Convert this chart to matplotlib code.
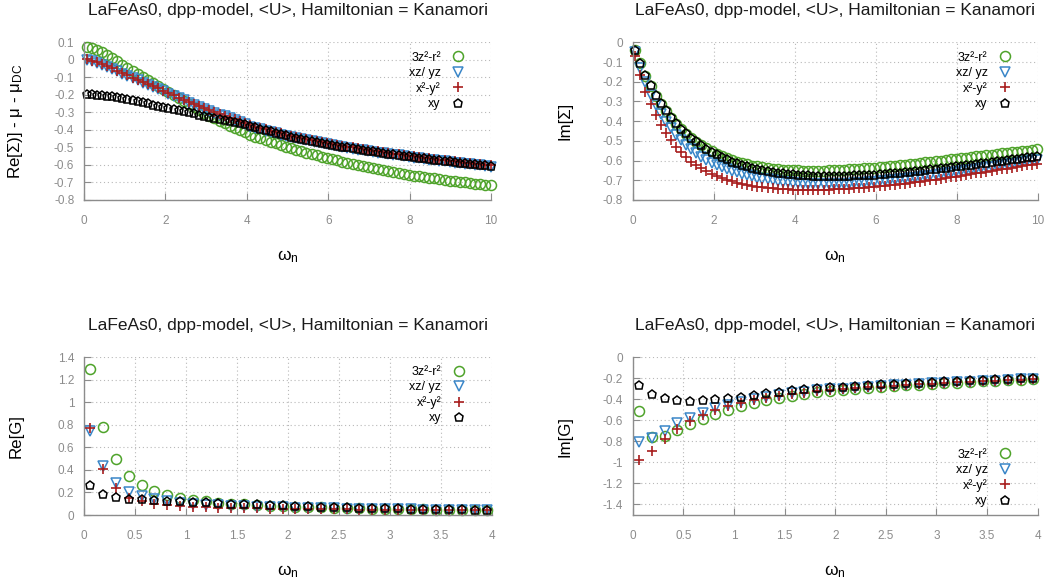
import numpy as np
import matplotlib
matplotlib.use("Agg")
import matplotlib.pyplot as plt
from matplotlib.ticker import FuncFormatter, MultipleLocator

plt.rcParams['font.family'] = ['Liberation Sans', 'DejaVu Sans']
plt.rcParams['mathtext.fontset'] = 'custom'
plt.rcParams['mathtext.rm'] = 'Liberation Sans'
plt.rcParams['mathtext.it'] = 'Liberation Sans:italic'
plt.rcParams['axes.unicode_minus'] = False

# ---------------- data ----------------
beta = 50.0
n_sigma = np.arange(80)
n_green = np.arange(32)
w_sigma = (2 * n_sigma + 1) * np.pi / beta   # Matsubara frequencies
w_green = (2 * n_green + 1) * np.pi / beta

orbitals = ["3z²-r²", "xz/ yz", "x²-y²", "xy"]

re_sigma_3z2 = [
    0.075, 0.068, 0.057, 0.043, 0.027, 0.010, -0.008, -0.027,
    -0.046, -0.064, -0.082, -0.100, -0.117, -0.134, -0.151, -0.168,
    -0.186, -0.203, -0.220, -0.237, -0.254, -0.271, -0.287, -0.303,
    -0.318, -0.333, -0.348, -0.362, -0.376, -0.389, -0.402, -0.414,
    -0.428, -0.438, -0.448, -0.458, -0.468, -0.477, -0.486, -0.495,
    -0.505, -0.513, -0.521, -0.529, -0.537, -0.545, -0.553, -0.561,
    -0.568, -0.574, -0.581, -0.587, -0.594, -0.600, -0.607, -0.613,
    -0.620, -0.625, -0.630, -0.636, -0.641, -0.646, -0.651, -0.656,
    -0.661, -0.665, -0.669, -0.673, -0.677, -0.681, -0.685, -0.689,
    -0.693, -0.697, -0.700, -0.703, -0.707, -0.710, -0.713, -0.717]
re_sigma_xzyz = [
    -0.002, -0.008, -0.017, -0.028, -0.040, -0.053, -0.066, -0.079,
    -0.092, -0.105, -0.117, -0.130, -0.142, -0.155, -0.167, -0.180,
    -0.194, -0.207, -0.220, -0.232, -0.244, -0.256, -0.268, -0.280,
    -0.291, -0.302, -0.313, -0.323, -0.334, -0.344, -0.354, -0.364,
    -0.381, -0.389, -0.396, -0.404, -0.412, -0.420, -0.427, -0.434,
    -0.441, -0.447, -0.453, -0.459, -0.465, -0.471, -0.477, -0.483,
    -0.488, -0.493, -0.498, -0.502, -0.507, -0.512, -0.516, -0.521,
    -0.526, -0.530, -0.534, -0.538, -0.542, -0.546, -0.550, -0.554,
    -0.558, -0.562, -0.565, -0.569, -0.572, -0.576, -0.579, -0.583,
    -0.587, -0.590, -0.594, -0.597, -0.600, -0.603, -0.606, -0.610]
re_sigma_x2y2 = [
    0.002, -0.004, -0.013, -0.024, -0.036, -0.049, -0.062, -0.075,
    -0.088, -0.101, -0.113, -0.126, -0.138, -0.151, -0.163, -0.176,
    -0.190, -0.203, -0.216, -0.228, -0.240, -0.252, -0.264, -0.276,
    -0.287, -0.298, -0.309, -0.319, -0.330, -0.340, -0.350, -0.360,
    -0.374, -0.382, -0.389, -0.397, -0.405, -0.413, -0.420, -0.427,
    -0.434, -0.440, -0.446, -0.452, -0.458, -0.464, -0.470, -0.476,
    -0.481, -0.486, -0.491, -0.495, -0.500, -0.505, -0.509, -0.514,
    -0.519, -0.523, -0.527, -0.531, -0.535, -0.539, -0.543, -0.547,
    -0.551, -0.555, -0.558, -0.562, -0.565, -0.569, -0.572, -0.576,
    -0.580, -0.583, -0.587, -0.590, -0.593, -0.596, -0.599, -0.603]
re_sigma_xy = [
    -0.195, -0.196, -0.198, -0.201, -0.205, -0.209, -0.214, -0.219,
    -0.225, -0.231, -0.237, -0.243, -0.249, -0.255, -0.261, -0.267,
    -0.273, -0.280, -0.287, -0.293, -0.300, -0.306, -0.313, -0.319,
    -0.325, -0.331, -0.337, -0.343, -0.349, -0.355, -0.360, -0.366,
    -0.378, -0.386, -0.393, -0.401, -0.409, -0.417, -0.424, -0.431,
    -0.438, -0.444, -0.450, -0.456, -0.462, -0.468, -0.474, -0.480,
    -0.485, -0.490, -0.495, -0.499, -0.504, -0.509, -0.513, -0.518,
    -0.523, -0.527, -0.531, -0.535, -0.539, -0.543, -0.547, -0.551,
    -0.555, -0.559, -0.562, -0.566, -0.569, -0.573, -0.576, -0.580,
    -0.584, -0.587, -0.591, -0.594, -0.597, -0.600, -0.603, -0.607]

im_sigma_3z2 = [
    -0.040, -0.106, -0.170, -0.224, -0.272, -0.314, -0.349, -0.382,
    -0.413, -0.440, -0.464, -0.485, -0.504, -0.522, -0.538, -0.553,
    -0.566, -0.578, -0.589, -0.598, -0.606, -0.613, -0.619, -0.625,
    -0.630, -0.634, -0.638, -0.641, -0.644, -0.646, -0.648, -0.649,
    -0.650, -0.651, -0.651, -0.651, -0.651, -0.651, -0.650, -0.649,
    -0.648, -0.647, -0.645, -0.644, -0.642, -0.640, -0.638, -0.636,
    -0.634, -0.632, -0.629, -0.627, -0.624, -0.621, -0.618, -0.615,
    -0.612, -0.609, -0.606, -0.603, -0.600, -0.597, -0.594, -0.591,
    -0.588, -0.585, -0.582, -0.579, -0.576, -0.573, -0.570, -0.567,
    -0.564, -0.561, -0.558, -0.555, -0.552, -0.549, -0.546, -0.542]
im_sigma_xzyz = [
    -0.050, -0.128, -0.203, -0.265, -0.318, -0.363, -0.402, -0.437,
    -0.468, -0.496, -0.521, -0.543, -0.563, -0.580, -0.596, -0.610,
    -0.622, -0.633, -0.643, -0.652, -0.660, -0.667, -0.674, -0.680,
    -0.686, -0.691, -0.696, -0.700, -0.704, -0.707, -0.710, -0.713,
    -0.715, -0.717, -0.718, -0.719, -0.720, -0.720, -0.720, -0.720,
    -0.719, -0.718, -0.717, -0.716, -0.714, -0.712, -0.710, -0.708,
    -0.706, -0.703, -0.701, -0.698, -0.695, -0.692, -0.689, -0.686,
    -0.683, -0.679, -0.676, -0.672, -0.669, -0.665, -0.661, -0.658,
    -0.654, -0.650, -0.646, -0.643, -0.639, -0.635, -0.631, -0.627,
    -0.623, -0.619, -0.615, -0.611, -0.607, -0.603, -0.599, -0.595]
im_sigma_x2y2 = [
    -0.070, -0.166, -0.250, -0.313, -0.370, -0.418, -0.460, -0.497,
    -0.530, -0.558, -0.583, -0.605, -0.624, -0.640, -0.655, -0.668,
    -0.679, -0.689, -0.698, -0.706, -0.713, -0.719, -0.724, -0.729,
    -0.733, -0.736, -0.739, -0.741, -0.743, -0.745, -0.746, -0.747,
    -0.748, -0.748, -0.748, -0.748, -0.748, -0.747, -0.747, -0.746,
    -0.745, -0.744, -0.742, -0.741, -0.739, -0.737, -0.735, -0.733,
    -0.731, -0.728, -0.726, -0.723, -0.720, -0.717, -0.714, -0.711,
    -0.707, -0.704, -0.700, -0.697, -0.693, -0.689, -0.685, -0.681,
    -0.677, -0.673, -0.669, -0.665, -0.661, -0.657, -0.653, -0.649,
    -0.645, -0.641, -0.637, -0.633, -0.629, -0.624, -0.620, -0.616]
im_sigma_xy = [
    -0.037, -0.103, -0.165, -0.219, -0.267, -0.310, -0.345, -0.378,
    -0.410, -0.438, -0.462, -0.483, -0.502, -0.522, -0.539, -0.555,
    -0.569, -0.582, -0.594, -0.605, -0.614, -0.622, -0.630, -0.637,
    -0.643, -0.649, -0.654, -0.658, -0.662, -0.665, -0.668, -0.670,
    -0.672, -0.674, -0.675, -0.676, -0.677, -0.677, -0.677, -0.677,
    -0.677, -0.676, -0.676, -0.675, -0.674, -0.673, -0.672, -0.671,
    -0.669, -0.667, -0.665, -0.663, -0.661, -0.659, -0.656, -0.654,
    -0.651, -0.648, -0.645, -0.642, -0.639, -0.636, -0.633, -0.630,
    -0.627, -0.624, -0.621, -0.617, -0.614, -0.611, -0.608, -0.604,
    -0.601, -0.598, -0.594, -0.591, -0.588, -0.584, -0.581, -0.577]

re_g_3z2 = [1.293, 0.781, 0.497, 0.349, 0.263, 0.213, 0.178, 0.154,
            0.135, 0.121, 0.110, 0.101, 0.094, 0.088, 0.083, 0.078,
            0.074, 0.070, 0.067, 0.064, 0.061, 0.059, 0.057, 0.055,
            0.053, 0.051, 0.050, 0.048, 0.047, 0.046, 0.045, 0.044]
re_g_xzyz = [0.746, 0.432, 0.282, 0.208, 0.165, 0.139, 0.121, 0.109,
             0.100, 0.093, 0.087, 0.082, 0.078, 0.074, 0.071, 0.068,
             0.066, 0.063, 0.061, 0.059, 0.057, 0.055, 0.054, 0.052,
             0.051, 0.050, 0.048, 0.047, 0.046, 0.045, 0.044, 0.043]
re_g_x2y2 = [0.775, 0.405, 0.237, 0.155, 0.122, 0.100, 0.085, 0.077,
             0.072, 0.068, 0.065, 0.062, 0.060, 0.058, 0.056, 0.055,
             0.054, 0.052, 0.051, 0.050, 0.049, 0.048, 0.047, 0.046,
             0.045, 0.044, 0.044, 0.043, 0.042, 0.042, 0.041, 0.040]
re_g_xy = [0.263, 0.189, 0.160, 0.146, 0.139, 0.132, 0.126, 0.121,
           0.116, 0.112, 0.107, 0.102, 0.098, 0.094, 0.090, 0.086,
           0.080, 0.077, 0.074, 0.071, 0.068, 0.066, 0.063, 0.061,
           0.059, 0.057, 0.055, 0.053, 0.051, 0.049, 0.047, 0.046]

im_g_3z2 = [-0.511, -0.759, -0.746, -0.692, -0.638, -0.587, -0.540, -0.502,
            -0.463, -0.432, -0.406, -0.387, -0.365, -0.349, -0.333, -0.317,
            -0.307, -0.298, -0.289, -0.281, -0.273, -0.266, -0.259, -0.252,
            -0.246, -0.240, -0.234, -0.228, -0.223, -0.218, -0.213, -0.205]
im_g_xzyz = [-0.803, -0.771, -0.698, -0.629, -0.575, -0.527, -0.486, -0.457,
             -0.422, -0.397, -0.375, -0.359, -0.343, -0.327, -0.314, -0.305,
             -0.297, -0.289, -0.281, -0.274, -0.267, -0.260, -0.254, -0.248,
             -0.242, -0.236, -0.231, -0.226, -0.221, -0.216, -0.211, -0.203]
im_g_x2y2 = [-0.978, -0.892, -0.781, -0.683, -0.603, -0.549, -0.502, -0.463,
             -0.432, -0.406, -0.384, -0.365, -0.349, -0.337, -0.321, -0.311,
             -0.302, -0.294, -0.286, -0.278, -0.271, -0.264, -0.257, -0.251,
             -0.245, -0.239, -0.233, -0.228, -0.223, -0.218, -0.213, -0.205]
im_g_xy = [-0.263, -0.349, -0.390, -0.406, -0.413, -0.406, -0.397, -0.384,
           -0.375, -0.356, -0.343, -0.330, -0.314, -0.305, -0.295, -0.286,
           -0.279, -0.272, -0.265, -0.258, -0.252, -0.246, -0.240, -0.234,
           -0.229, -0.224, -0.219, -0.214, -0.209, -0.205, -0.200, -0.196]

title = "LaFeAs0, dpp-model, <U>, Hamiltonian = Kanamori"

# ---------------- style ----------------
colors = ["#4ea32a", "#3a86c8", "#a81e1e", "#000000"]
markers = ["o", "v", "+", "p"]
msizes = [7.2, 7.0, 7.6, 6.4]
GRAY = "#8c8c8c"

W, H = 1044, 584
fig = plt.figure(figsize=(W / 100, H / 100), dpi=100)


def add_axes(x0, x1, ytop, ybot):
    return fig.add_axes([x0 / W, 1 - ybot / H, (x1 - x0) / W, (ybot - ytop) / H])


def fmt(v, pos):
    s = f"{round(v, 6):g}"
    return "0" if s == "-0" else s


def style(ax, xlim, xstep, ylim, ystep, ylabel, leg_top, leg_loc_y):
    ax.set_xlim(*xlim)
    ax.set_ylim(*ylim)
    ax.xaxis.set_major_locator(MultipleLocator(xstep))
    ax.yaxis.set_major_locator(MultipleLocator(ystep))
    ax.xaxis.set_major_formatter(FuncFormatter(fmt))
    ax.yaxis.set_major_formatter(FuncFormatter(fmt))
    ax.grid(True, color="#b8b8b8", linestyle=(0, (1, 2.5)), linewidth=0.8)
    ax.set_axisbelow(True)
    for s in ["top", "right"]:
        ax.spines[s].set_visible(False)
    for s in ["left", "bottom"]:
        ax.spines[s].set_color(GRAY)
        ax.spines[s].set_linewidth(1.0)
    ax.tick_params(axis="x", direction="in", length=5, color=GRAY, labelcolor=GRAY,
                   labelsize=8.5, pad=11)
    ax.tick_params(axis="y", direction="in", length=5, color=GRAY, labelcolor=GRAY,
                   labelsize=8.5, pad=7)
    bbox = ax.get_position()
    hpx = bbox.height * H
    wpx = bbox.width * W
    ax.set_ylabel(ylabel, fontsize=12.2, va="center")
    ax.yaxis.set_label_coords(-68 / wpx, 0.5)
    ax.set_xlabel("ω$_\\mathrm{n}$", fontsize=12.5, va="center")
    ax.xaxis.set_label_coords(0.5, -57 / hpx)
    ax.text(0.5, 1 + 32 / hpx, title, transform=ax.transAxes, ha="center",
            va="center", fontsize=12.5, color="#1a1a1a")
    leg = ax.legend(loc=leg_loc_y, bbox_to_anchor=leg_top, frameon=False,
                    markerfirst=False, fontsize=9, handlelength=1.0,
                    handletextpad=0.9, labelspacing=0.25, borderpad=0,
                    borderaxespad=0)
    return leg


def plot_series(ax, w, series):
    for lab, vals, c, m, ms in zip(orbitals, series, colors, markers, msizes):
        if m == "+":
            ax.plot(w, vals, linestyle="none", marker=m, ms=ms, mew=1.2, color=c,
                    label=lab, clip_on=False)
        else:
            ax.plot(w, vals, linestyle="none", marker=m, ms=ms, mew=1.1,
                    mfc="none", mec=c, label=lab, clip_on=False)


# top-left
ax1 = add_axes(84, 491, 42.3, 200)
plot_series(ax1, w_sigma, [re_sigma_3z2, re_sigma_xzyz, re_sigma_x2y2, re_sigma_xy])
style(ax1, (0, 10), 2, (-0.8, 0.1), 0.1, "Re[Σ)] - μ - μ$_\\mathrm{DC}$",
      (0.935, 0.94), "upper right")

# top-right
ax2 = add_axes(632.7, 1037.7, 42.3, 200)
plot_series(ax2, w_sigma, [im_sigma_3z2, im_sigma_xzyz, im_sigma_x2y2, im_sigma_xy])
style(ax2, (0, 10), 2, (-0.8, 0.0), 0.1, "Im[Σ]", (0.935, 0.94), "upper right")

# bottom-left
ax3 = add_axes(84, 491.7, 357.3, 515)
plot_series(ax3, w_green, [re_g_3z2, re_g_xzyz, re_g_x2y2, re_g_xy])
style(ax3, (0, 4), 0.5, (0, 1.4), 0.2, "Re[G]", (0.935, 0.945), "upper right")

# bottom-right
ax4 = add_axes(632.7, 1037.7, 357.3, 515)
plot_series(ax4, w_green, [im_g_3z2, im_g_xzyz, im_g_x2y2, im_g_xy])
style(ax4, (0, 4), 0.5, (-1.5, 0.0), 0.2, "Im[G]", (0.935, 0.42), "upper right")
ax4.set_yticks([0, -0.2, -0.4, -0.6, -0.8, -1.0, -1.2, -1.4])

fig.savefig("out.png", dpi=100)
